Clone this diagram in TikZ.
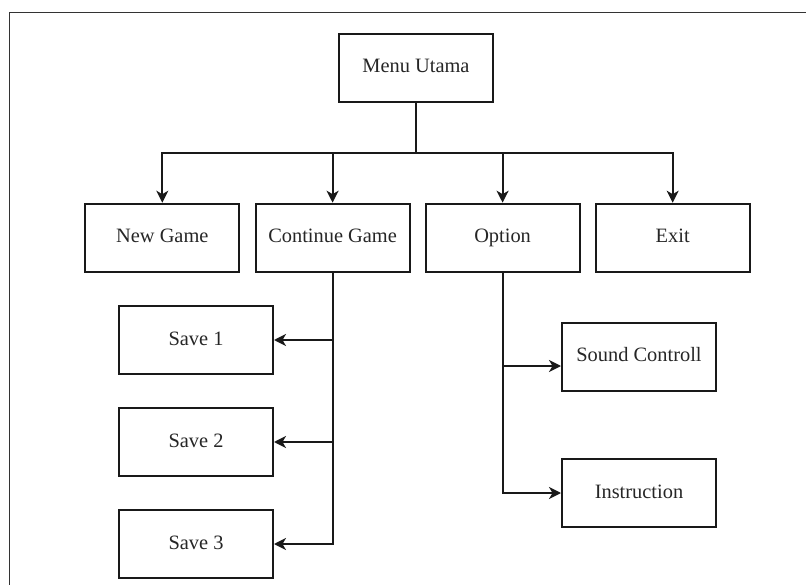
\documentclass[tikz,border=0pt]{standalone}
\usepackage{fontspec}
\setmainfont{Liberation Serif}
\usetikzlibrary{arrows.meta}

\begin{document}
\begin{tikzpicture}[x=1pt, y=-1pt,
  menubox/.style={draw=black!90, line width=2pt, minimum width=154pt, minimum height=68pt,
    inner sep=0pt, text height=14pt, text depth=4pt, text=black!85,
    font=\fontsize{20.4}{24}\selectfont},
  link/.style={draw=black!90, line width=1.8pt},
  arr/.style={link, -{Stealth[length=12pt, width=12pt, inset=3.5pt]}}]

  % page extent and the outer frame
  \useasboundingbox (0,0) rectangle (806,585);
  \draw[black!80, line width=1.2pt] (9.5,585) -- (9.5,12.5) -- (806,12.5);

  % boxes
  \node[menubox] (menu) at (416,68) {Menu Utama};
  \node[menubox] (ng)   at (162.3,237.7) {New Game};
  \node[menubox] (cont) at (332.6,237.7) {Continue Game};
  \node[menubox] (opt)  at (502.6,237.7) {Option};
  \node[menubox] (exit) at (672.7,237.7) {Exit};

  \node[menubox] (s1) at (196,340) {Save 1};
  \node[menubox] (s2) at (196,442) {Save 2};
  \node[menubox] (s3) at (196,544) {Save 3};

  \node[menubox] (snd) at (639,356.7) {Sound Controll};
  \node[menubox] (ins) at (639,493) {Instruction};

  % main menu bus
  \coordinate (bus) at (416,152.7);
  \draw[link] (menu.south) -- (bus);
  \draw[arr] (bus) -| (ng.north);
  \draw[arr] (bus) -| (cont.north);
  \draw[arr] (bus) -| (opt.north);
  \draw[arr] (bus) -| (exit.north);

  % save slots
  \draw[arr] (cont.south) |- (s3.east);
  \draw[arr] (cont.south |- s1.east) -- (s1.east);
  \draw[arr] (cont.south |- s2.east) -- (s2.east);

  % option entries
  \coordinate (sj) at (502.6,366);
  \draw[arr] (opt.south) |- (ins.west);
  \draw[arr] (sj) -- (sj -| snd.west);
\end{tikzpicture}
\end{document}
